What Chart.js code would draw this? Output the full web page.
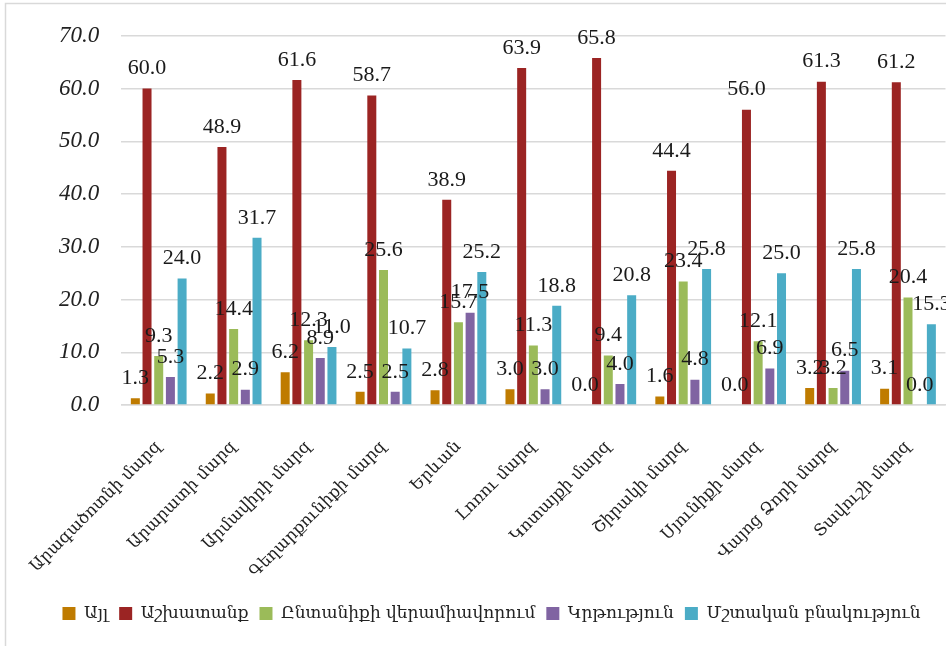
<!DOCTYPE html>
<html>
<head>
<meta charset="utf-8">
<script src="https://cdn.jsdelivr.net/npm/chart.js@4.4.1/dist/chart.umd.min.js"></script>
<style>
html,body{margin:0;padding:0;background:#fff;}
#wrap{width:946px;height:646px;position:relative;}
</style>
</head>
<body>
<div id="wrap"><canvas id="c" width="946" height="646"></canvas></div>
<script>
const categories = ["Արագածոտնի մարզ","Արարատի մարզ","Արմավիրի մարզ","Գեղարքունիքի մարզ","Երևան","Լոռու մարզ","Կոտայքի մարզ","Շիրակի մարզ","Սյունիքի մարզ","Վայոց Ձորի մարզ","Տավուշի մարզ"];
const seriesNames = ["Այլ","Աշխատանք","Ընտանիքի վերամիավորում","Կրթություն","Մշտական բնակություն"];
const other     = [1.3, 2.2, 6.2, 2.5, 2.8, 3.0, 0.0, 1.6, 0.0, 3.2, 3.1];
const work      = [60.0, 48.9, 61.6, 58.7, 38.9, 63.9, 65.8, 44.4, 56.0, 61.3, 61.2];
const family    = [9.3, 14.4, 12.3, 25.6, 15.7, 11.3, 9.4, 23.4, 12.1, 3.2, 20.4];
const education = [5.3, 2.9, 8.9, 2.5, 17.5, 3.0, 4.0, 4.8, 6.9, 6.5, 0.0];
const permanent = [24.0, 31.7, 11.0, 10.7, 25.2, 18.8, 20.8, 25.8, 25.0, 25.8, 15.3];
const yTicks = [0, 10, 20, 30, 40, 50, 60, 70];

const colors = ["#BF7B00","#9B2423","#9BBB59","#8064A2","#4BACC6"];
const seriesData = [other, work, family, education, permanent];
const FONT = "'Liberation Serif','DejaVu Serif',serif";
const AFONT = "'DejaVu Serif','Liberation Serif',serif";

const labelPlugin = {
  id: 'valueLabels',
  afterDatasetsDraw(chart) {
    const ctx = chart.ctx;
    ctx.save();
    ctx.font = "22px " + FONT;
    ctx.fillStyle = "#1a1a1a";
    ctx.textAlign = "center";
    ctx.textBaseline = "bottom";
    chart.data.datasets.forEach((ds, i) => {
      const meta = chart.getDatasetMeta(i);
      meta.data.forEach((el, j) => {
        ctx.fillText(ds.data[j].toFixed(1), el.x, el.y - 9);
      });
    });
    ctx.restore();
  }
};
const borderPlugin = {
  id: 'outerBorder',
  beforeDraw(chart) {
    const ctx = chart.ctx;
    ctx.save();
    ctx.fillStyle = "#fff";
    ctx.fillRect(0,0,chart.width,chart.height);
    ctx.strokeStyle = "#d9d9d9";
    ctx.lineWidth = 1.5;
    ctx.strokeRect(5.5, 3.5, chart.width + 10, chart.height + 10);
    ctx.restore();
  }
};

new Chart(document.getElementById('c'), {
  type: 'bar',
  data: {
    labels: categories,
    datasets: seriesData.map((d, i) => ({
      label: seriesNames[i],
      data: d,
      backgroundColor: colors[i],
      borderWidth: 0,
      categoryPercentage: 0.78,
      barPercentage: 0.77
    }))
  },
  options: {
    responsive: false,
    animation: false,
    devicePixelRatio: 1,
    layout: { padding: { left: 37, right: 0, top: 16, bottom: 14 } },
    plugins: {
      legend: {
        position: 'bottom',
        labels: {
          font: { family: AFONT, size: 17 },
          color: "#222",
          boxWidth: 13,
          boxHeight: 13,
          padding: 11
        }
      },
      tooltip: { enabled: false }
    },
    scales: {
      x: {
        grid: { display: false },
        border: { color: "#d9d9d9", width: 1.5 },
        afterFit(scale) { scale.height = 189; },
        ticks: {
          autoSkip: false,
          minRotation: 45,
          maxRotation: 45,
          font: { family: AFONT, size: 16.5 },
          color: "#222",
          padding: 24
        }
      },
      y: {
        min: 0, max: 70,
        afterBuildTicks(axis) { axis.ticks = yTicks.map(v => ({ value: v })); },
        grid: { color: "#d9d9d9", lineWidth: 1.5, drawTicks: false },
        border: { display: false },
        ticks: {
          callback: v => Number(v).toFixed(1),
          font: { family: FONT, size: 23, style: 'italic' },
          color: "#222",
          padding: 22
        }
      }
    }
  },
  plugins: [borderPlugin, labelPlugin]
});
</script>
</body>
</html>
